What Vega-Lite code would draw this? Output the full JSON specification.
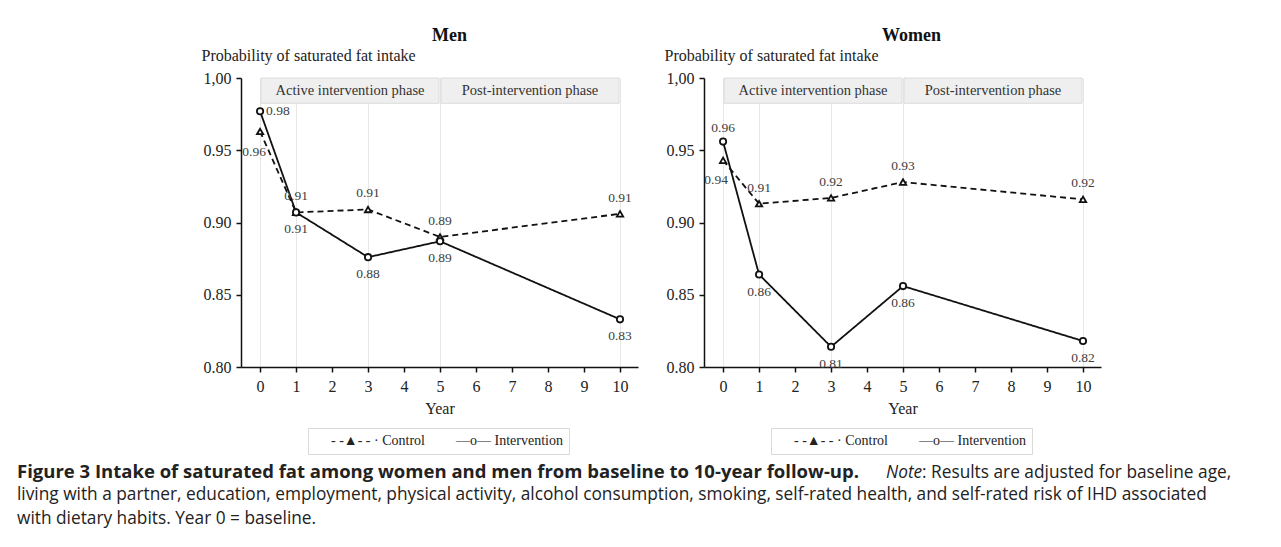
{
  "$schema": "https://vega.github.io/schema/vega-lite/v6.json",
  "background": "white",
  "padding": {"left": 17, "right": 5, "top": 27, "bottom": 5},
  "datasets": {
    "pts": [
      {"sex": "Men", "group": "Control", "year": 0, "value": 0.963},
      {"sex": "Men", "group": "Control", "year": 1, "value": 0.907},
      {"sex": "Men", "group": "Control", "year": 3, "value": 0.909},
      {"sex": "Men", "group": "Control", "year": 5, "value": 0.890},
      {"sex": "Men", "group": "Control", "year": 10, "value": 0.906},
      {"sex": "Men", "group": "Intervention", "year": 0, "value": 0.977},
      {"sex": "Men", "group": "Intervention", "year": 1, "value": 0.907},
      {"sex": "Men", "group": "Intervention", "year": 3, "value": 0.876},
      {"sex": "Men", "group": "Intervention", "year": 5, "value": 0.887},
      {"sex": "Men", "group": "Intervention", "year": 10, "value": 0.833},
      {"sex": "Women", "group": "Control", "year": 0, "value": 0.943},
      {"sex": "Women", "group": "Control", "year": 1, "value": 0.913},
      {"sex": "Women", "group": "Control", "year": 3, "value": 0.917},
      {"sex": "Women", "group": "Control", "year": 5, "value": 0.928},
      {"sex": "Women", "group": "Control", "year": 10, "value": 0.916},
      {"sex": "Women", "group": "Intervention", "year": 0, "value": 0.956},
      {"sex": "Women", "group": "Intervention", "year": 1, "value": 0.864},
      {"sex": "Women", "group": "Intervention", "year": 3, "value": 0.814},
      {"sex": "Women", "group": "Intervention", "year": 5, "value": 0.856},
      {"sex": "Women", "group": "Intervention", "year": 10, "value": 0.818}
    ],
    "phases": [
      {"phase": "Active intervention phase", "year": 0, "end": 5},
      {"phase": "Post-intervention phase", "year": 5, "end": 10}
    ]
  },
  "config": {
    "view": {"stroke": null},
    "font": "Liberation Serif",
    "axis": {
      "labelFont": "Liberation Serif", "labelFontSize": 16, "labelColor": "#222", "labelOverlap": false,
      "titleFont": "Liberation Serif", "titleFontSize": 16, "titleFontWeight": "normal", "titleColor": "#222",
      "domainColor": "#111", "domainWidth": 1.5, "tickColor": "#111", "tickWidth": 1.5, "tickSize": 5
    },
    "title": {"font": "Liberation Serif", "fontSize": 18, "fontWeight": "bold", "color": "#111"}
  },
  "title": {
    "text": ["living with a partner, education, employment, physical activity, alcohol consumption, smoking, self-rated health, and self-rated risk of IHD associated", "with dietary habits. Year 0 = baseline."],
    "orient": "bottom", "anchor": "start", "frame": "bounds", "offset": 5,
    "font": "Open Sans", "fontSize": 17.3, "fontWeight": "normal", "color": "#222", "lineHeight": 24
  },
  "vconcat": [{
    "title": {"text": ": Results are adjusted for baseline age,", "orient": "bottom", "anchor": "start", "frame": "bounds", "offset": -18.5, "dx": 905, "dy": 1,
      "font": "Open Sans", "fontSize": 17.3, "fontWeight": "normal", "color": "#222"},
    "vconcat": [{
      "title": {"text": "Note", "orient": "bottom", "anchor": "start", "frame": "bounds", "offset": -18.5, "dx": 869, "dy": 1,
        "font": "Open Sans", "fontSize": 17.3, "fontWeight": "normal", "fontStyle": "italic", "color": "#222"},
      "vconcat": [{
        "title": {"text": "Figure 3 Intake of saturated fat among women and men from baseline to 10-year follow-up.", "orient": "bottom", "anchor": "start", "frame": "bounds", "offset": 8, "dx": -184,
          "font": "Open Sans", "fontSize": 18.5, "fontWeight": "bold", "color": "#222"},
        "bounds": "flush",
        "spacing": 66,
        "resolve": {"legend": {"shape": "independent"}},
        "hconcat": [
          {
            "width": 397, "height": 289,
            "title": {"text": "Men", "frame": "group", "dx": 10, "offset": 2},
            "encoding": {
              "x": {"field": "year", "type": "quantitative", "scale": {"domain": [-0.53, 10.5], "nice": false, "zero": false},
                "axis": {"values": [0,1,2,3,4,5,6,7,8,9,10], "format": "d", "title": "Year", "labelPadding": 6, "titlePadding": 6, "labelOverlap": false, "labelFlush": false,
                  "grid": true, "gridColor": "#e6e6e6", "gridWidth": 1, "gridOpacity": {"condition": {"test": "indexof([0,1,3,5,10], datum.value) >= 0", "value": 1}, "value": 0}}}
            },
            "layer": [
              {
                "data": {"name": "phases"},
                "mark": {"type": "rect", "fill": "#efefef", "stroke": "#dcdcdc", "strokeWidth": 1, "xOffset": 1, "x2Offset": -1},
                "encoding": {"x2": {"field": "end"},
                  "y": {"datum": 1.0, "type": "quantitative", "scale": {"domain": [0.8, 1.0], "nice": false, "zero": false},
                    "axis": {"values": [0.8, 0.85, 0.9, 0.95, 1.0], "labelExpr": "datum.value === 1 ? '1,00' : format(datum.value, '.2f')", "grid": false, "labelOverlap": false,
                      "title": "Probability of saturated fat intake", "titleAngle": 0, "titleAlign": "left", "titleBaseline": "middle", "titleX": -40, "titleY": -23, "labelPadding": 5}},
                  "y2": {"datum": 0.9825}}
              },
              {
                "data": {"name": "phases"},
                "transform": [{"calculate": "(datum.year + datum.end) / 2", "as": "year"}],
                "mark": {"type": "text", "font": "Liberation Serif", "fontSize": 14.5, "color": "#333", "baseline": "middle"},
                "encoding": {"y": {"datum": 0.9912, "type": "quantitative"}, "text": {"field": "phase"}}
              },
              {
                "data": {"name": "pts"},
                "transform": [{"filter": "datum.sex === 'Men'"}],
                "mark": {"type": "line", "color": "#111", "strokeWidth": 1.8},
                "encoding": {
                  "y": {"field": "value", "type": "quantitative"},
                  "strokeDash": {"field": "group", "type": "nominal", "scale": {"domain": ["Control", "Intervention"], "range": [[6, 4], [1, 0]]}, "legend": null}
                }
              },
              {
                "data": {"name": "pts"},
                "transform": [{"filter": "datum.sex === 'Men'"}],
                "mark": {"type": "point", "filled": true, "fill": "white", "stroke": "#111", "strokeWidth": 1.8, "size": 40, "opacity": 1},
                "encoding": {
                  "y": {"field": "value", "type": "quantitative"},
                  "shape": {"field": "group", "type": "nominal", "scale": {"domain": ["Control", "Intervention"], "range": ["triangle-up", "circle"]},
                    "legend": {"title": null, "orient": "none", "legendX": 67, "legendY": 350, "direction": "horizontal", "symbolSize": 1, "symbolOpacity": 0, "labelOffset": 3, "columnPadding": 14,
                      "padding": 6, "strokeColor": "#d9d9d9", "fillColor": "white",
                      "labelFont": "Liberation Serif", "labelFontSize": 14, "labelColor": "#222",
                      "labelExpr": "datum.label === 'Control' ? '- -▲- - · Control' : '—o— Intervention'"}}
                }
              },
              {
                "data": {"name": "pts"},
                "transform": [{"filter": "datum.sex === 'Men' && datum.group === 'Control' && datum.year > 0"}],
                "mark": {"type": "text", "font": "Liberation Serif", "fontSize": 13.5, "color": "#404040", "baseline": "middle", "dy": -16},
                "encoding": {"y": {"field": "value", "type": "quantitative"}, "text": {"field": "value", "format": ".2f"}}
              },
              {
                "data": {"name": "pts"},
                "transform": [{"filter": "datum.sex === 'Men' && datum.group === 'Intervention' && datum.year > 0"}],
                "mark": {"type": "text", "font": "Liberation Serif", "fontSize": 13.5, "color": "#404040", "baseline": "middle", "dy": 17},
                "encoding": {"y": {"field": "value", "type": "quantitative"}, "text": {"field": "value", "format": ".2f"}}
              },
              {
                "data": {"name": "pts"},
                "transform": [{"filter": "datum.sex === 'Men' && datum.group === 'Control' && datum.year === 0"}],
                "mark": {"type": "text", "font": "Liberation Serif", "fontSize": 13.5, "color": "#404040", "baseline": "middle", "dx": -6, "dy": 21},
                "encoding": {"y": {"field": "value", "type": "quantitative"}, "text": {"field": "value", "format": ".2f"}}
              },
              {
                "data": {"name": "pts"},
                "transform": [{"filter": "datum.sex === 'Men' && datum.group === 'Intervention' && datum.year === 0"}],
                "mark": {"type": "text", "font": "Liberation Serif", "fontSize": 13.5, "color": "#404040", "baseline": "middle", "align": "left", "dx": 6, "dy": 0},
                "encoding": {"y": {"field": "value", "type": "quantitative"}, "text": {"field": "value", "format": ".2f"}}
              }
            ]
          },
          {
            "width": 397, "height": 289,
            "title": {"text": "Women", "frame": "group", "dx": 9, "offset": 2},
            "encoding": {
              "x": {"field": "year", "type": "quantitative", "scale": {"domain": [-0.53, 10.5], "nice": false, "zero": false},
                "axis": {"values": [0,1,2,3,4,5,6,7,8,9,10], "format": "d", "title": "Year", "labelPadding": 6, "titlePadding": 6, "labelOverlap": false, "labelFlush": false,
                  "grid": true, "gridColor": "#e6e6e6", "gridWidth": 1, "gridOpacity": {"condition": {"test": "indexof([0,1,3,5,10], datum.value) >= 0", "value": 1}, "value": 0}}}
            },
            "layer": [
              {
                "data": {"name": "phases"},
                "mark": {"type": "rect", "fill": "#efefef", "stroke": "#dcdcdc", "strokeWidth": 1, "xOffset": 1, "x2Offset": -1},
                "encoding": {"x2": {"field": "end"},
                  "y": {"datum": 1.0, "type": "quantitative", "scale": {"domain": [0.8, 1.0], "nice": false, "zero": false},
                    "axis": {"values": [0.8, 0.85, 0.9, 0.95, 1.0], "labelExpr": "datum.value === 1 ? '1,00' : format(datum.value, '.2f')", "grid": false, "labelOverlap": false,
                      "title": "Probability of saturated fat intake", "titleAngle": 0, "titleAlign": "left", "titleBaseline": "middle", "titleX": -40, "titleY": -23, "labelPadding": 5}},
                  "y2": {"datum": 0.9825}}
              },
              {
                "data": {"name": "phases"},
                "transform": [{"calculate": "(datum.year + datum.end) / 2", "as": "year"}],
                "mark": {"type": "text", "font": "Liberation Serif", "fontSize": 14.5, "color": "#333", "baseline": "middle"},
                "encoding": {"y": {"datum": 0.9912, "type": "quantitative"}, "text": {"field": "phase"}}
              },
              {
                "data": {"name": "pts"},
                "transform": [{"filter": "datum.sex === 'Women'"}],
                "mark": {"type": "line", "color": "#111", "strokeWidth": 1.8},
                "encoding": {
                  "y": {"field": "value", "type": "quantitative"},
                  "strokeDash": {"field": "group", "type": "nominal", "scale": {"domain": ["Control", "Intervention"], "range": [[6, 4], [1, 0]]}, "legend": null}
                }
              },
              {
                "data": {"name": "pts"},
                "transform": [{"filter": "datum.sex === 'Women'"}],
                "mark": {"type": "point", "filled": true, "fill": "white", "stroke": "#111", "strokeWidth": 1.8, "size": 40, "opacity": 1},
                "encoding": {
                  "y": {"field": "value", "type": "quantitative"},
                  "shape": {"field": "group", "type": "nominal", "scale": {"domain": ["Control", "Intervention"], "range": ["triangle-up", "circle"]},
                    "legend": {"title": null, "orient": "none", "legendX": 67, "legendY": 350, "direction": "horizontal", "symbolSize": 1, "symbolOpacity": 0, "labelOffset": 3, "columnPadding": 14,
                      "padding": 6, "strokeColor": "#d9d9d9", "fillColor": "white",
                      "labelFont": "Liberation Serif", "labelFontSize": 14, "labelColor": "#222",
                      "labelExpr": "datum.label === 'Control' ? '- -▲- - · Control' : '—o— Intervention'"}}
                }
              },
              {
                "data": {"name": "pts"},
                "transform": [{"filter": "datum.sex === 'Women' && datum.group === 'Control' && datum.year > 0"}],
                "mark": {"type": "text", "font": "Liberation Serif", "fontSize": 13.5, "color": "#404040", "baseline": "middle", "dy": -16},
                "encoding": {"y": {"field": "value", "type": "quantitative"}, "text": {"field": "value", "format": ".2f"}}
              },
              {
                "data": {"name": "pts"},
                "transform": [{"filter": "datum.sex === 'Women' && datum.group === 'Intervention' && datum.year > 0"}],
                "mark": {"type": "text", "font": "Liberation Serif", "fontSize": 13.5, "color": "#404040", "baseline": "middle", "dy": 17},
                "encoding": {"y": {"field": "value", "type": "quantitative"}, "text": {"field": "value", "format": ".2f"}}
              },
              {
                "data": {"name": "pts"},
                "transform": [{"filter": "datum.sex === 'Women' && datum.group === 'Control' && datum.year === 0"}],
                "mark": {"type": "text", "font": "Liberation Serif", "fontSize": 13.5, "color": "#404040", "baseline": "middle", "dx": -7, "dy": 20},
                "encoding": {"y": {"field": "value", "type": "quantitative"}, "text": {"field": "value", "format": ".2f"}}
              },
              {
                "data": {"name": "pts"},
                "transform": [{"filter": "datum.sex === 'Women' && datum.group === 'Intervention' && datum.year === 0"}],
                "mark": {"type": "text", "font": "Liberation Serif", "fontSize": 13.5, "color": "#404040", "baseline": "middle", "dy": -14},
                "encoding": {"y": {"field": "value", "type": "quantitative"}, "text": {"field": "value", "format": ".2f"}}
              }
            ]
          }
        ]
      }]
    }]
  }]
}
